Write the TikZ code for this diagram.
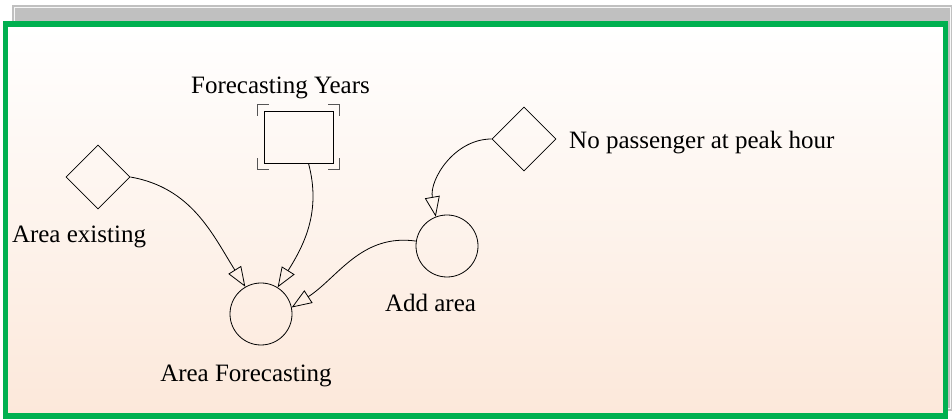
\documentclass[tikz,border=0pt]{standalone}
\usepackage{fontspec}
\setmainfont{Liberation Serif}
\usetikzlibrary{shapes.geometric,arrows.meta,calc}
\definecolor{frame}{RGB}{0,176,80}
\definecolor{peach}{RGB}{252,232,218}
\definecolor{backgrey}{RGB}{192,192,192}
\definecolor{brk}{RGB}{85,85,85}
\tikzstyle{link}  = [draw, line width=0.8pt, -{Triangle[open, length=20pt, width=15pt]}]
\tikzstyle{level} = [diamond, draw, line width=0.8pt, aspect=1, inner sep=0pt, minimum size=64pt]
\tikzstyle{stock} = [rectangle, draw, line width=0.8pt, inner sep=0pt, minimum width=69pt, minimum height=52pt]
\tikzstyle{aux}   = [circle, draw, line width=0.8pt, inner sep=0pt, minimum size=62pt]
\tikzstyle{lbl}   = [inner sep=0pt, font=\fontsize{25}{30}\selectfont]

\begin{document}
\begin{tikzpicture}[x=1pt, y=1pt]

    \useasboundingbox (0,0) rectangle (952,419);
    \fill[backgrey] (12,8) rectangle (952,414);
    \draw[white!85!backgrey, line width=1pt] (14.5,10.5) rectangle (950,411.5);
    \shade[top color=white, bottom color=peach] (8,5) rectangle (943,393);
    \draw[frame, line width=5.5pt] (5.5,2.75) rectangle (945.25,395);

    \node[level]  (exist)   at (98,242)    {};
    \node[stock]  (years)   at (298.5,282) {};
    \node[aux]    (afcst)   at (261,105)   {};
    \node[aux]    (addarea) at (447,173)   {};
    \node[level]  (peak)    at (524,280)   {};

    \node[lbl, anchor=base]      (existlbl)   at (79,176)    {Area existing};
    \node[lbl, anchor=base]      (yearslbl)   at (280.5,325) {Forecasting Years};
    \node[lbl, anchor=base]      (afcstlbl)   at (246,37)    {Area Forecasting};
    \node[lbl, anchor=base]      (addarealbl) at (430.5,107) {Add area};
    \node[lbl, anchor=base west] (peaklbl)    at (569,270)   {No passenger at peak hour};

    \foreach \c/\sx/\sy in {north west/-1/1, north east/1/1, south west/-1/-1, south east/1/-1}
        \draw[brk, line width=1.2pt] ($(years.\c)+({\sx*6},{\sy*6})$) ++({-\sx*11},0) -- ++({\sx*11},0) -- ++(0,{-\sy*11});

    \path[link] (exist.east)          to[out=-10, in=122] (afcst.120);
    \path[link] ($(years.south)+(10,0)$) to[out=-75, in=58] (afcst.58);
    \path[link] (addarea.171)         to[out=172, in=33]  (afcst.12);
    \path[link] (peak.west)           to[out=180, in=100] (addarea.111);

\end{tikzpicture}
\end{document}
